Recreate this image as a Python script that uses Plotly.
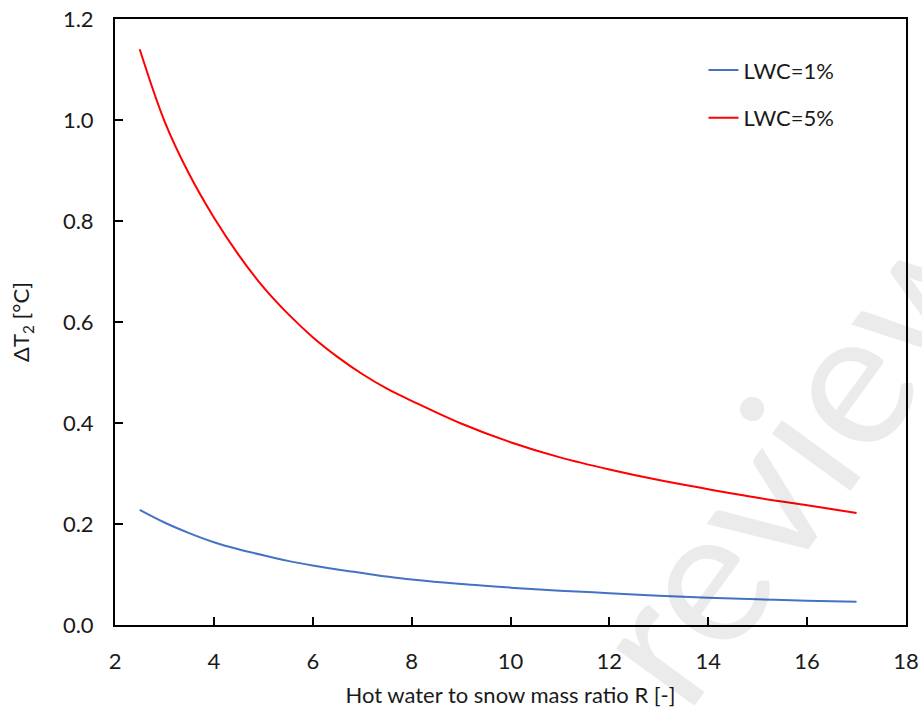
import plotly.graph_objects as go

# Data
R = [2.5, 3, 3.5, 4, 4.5, 5, 5.5, 6, 6.5, 7, 7.5, 8, 9, 10, 11, 12, 13, 14, 15, 16, 17]
lwc1 = [0.228, 0.203, 0.182, 0.164, 0.150, 0.138, 0.127, 0.118, 0.110, 0.103, 0.096, 0.090,
        0.081, 0.074, 0.068, 0.063, 0.058, 0.054, 0.051, 0.048, 0.046]
lwc5 = [1.140, 0.998, 0.893, 0.807, 0.733, 0.669, 0.616, 0.570, 0.531, 0.497, 0.468, 0.444,
        0.399, 0.362, 0.332, 0.308, 0.287, 0.269, 0.252, 0.237, 0.222]

x_ticks = [2, 4, 6, 8, 10, 12, 14, 16, 18]
y_ticks = [0.0, 0.2, 0.4, 0.6, 0.8, 1.0, 1.2]
y_tick_labels = ["0.0", "0.2", "0.4", "0.6", "0.8", "1.0", "1.2"]

FONT = "Lato"
fig = go.Figure()
fig.add_trace(go.Scatter(x=R, y=lwc1, mode="lines", name="LWC=1%", legendgroup="a",
                         line=dict(color="#4472C4", width=2, shape="spline", smoothing=1.0)))
fig.add_trace(go.Scatter(x=R, y=lwc5, mode="lines", name="LWC=5%", legendgroup="b",
                         line=dict(color="#FF0000", width=2, shape="spline", smoothing=1.0)))

axis_common = dict(showgrid=False, zeroline=False, showline=True, linecolor="black",
                   linewidth=2, mirror=True, ticks="inside", ticklen=8, tickwidth=1.5,
                   tickcolor="black", automargin=False,
                   tickfont=dict(family=FONT, size=22, color="#1a1a1a"))

fig.update_xaxes(range=[2, 18], tickvals=x_ticks, ticklabelstandoff=16,
                 title=dict(text="Hot water to snow mass ratio R [-]", standoff=14,
                            font=dict(family=FONT, size=22, color="#1a1a1a")),
                 **axis_common)
fig.update_yaxes(range=[0, 1.2], tickvals=y_ticks, ticktext=y_tick_labels, ticklabelstandoff=15,
                 title=dict(text="ΔT<sub>2</sub> [°C]", standoff=27,
                            font=dict(family=FONT, size=22, color="#1a1a1a")),
                 **axis_common)

fig.add_annotation(text="review", xref="paper", yref="paper", x=0.855, y=0.297,
                   xanchor="center", yanchor="middle",
                   showarrow=False, textangle=-54,
                   font=dict(family=FONT, size=192, color="rgba(0,0,0,0.08)"))

fig.update_layout(
    width=922, height=709,
    margin=dict(l=115, r=16, t=19, b=84),
    paper_bgcolor="white", plot_bgcolor="white",
    showlegend=True,
    legend=dict(x=0.744, y=0.950, xanchor="left", yanchor="top", bgcolor="rgba(0,0,0,0)",
                font=dict(family=FONT, size=22, color="#1a1a1a"), tracegroupgap=16,
                itemwidth=30),
)

fig.write_html("out.html")
